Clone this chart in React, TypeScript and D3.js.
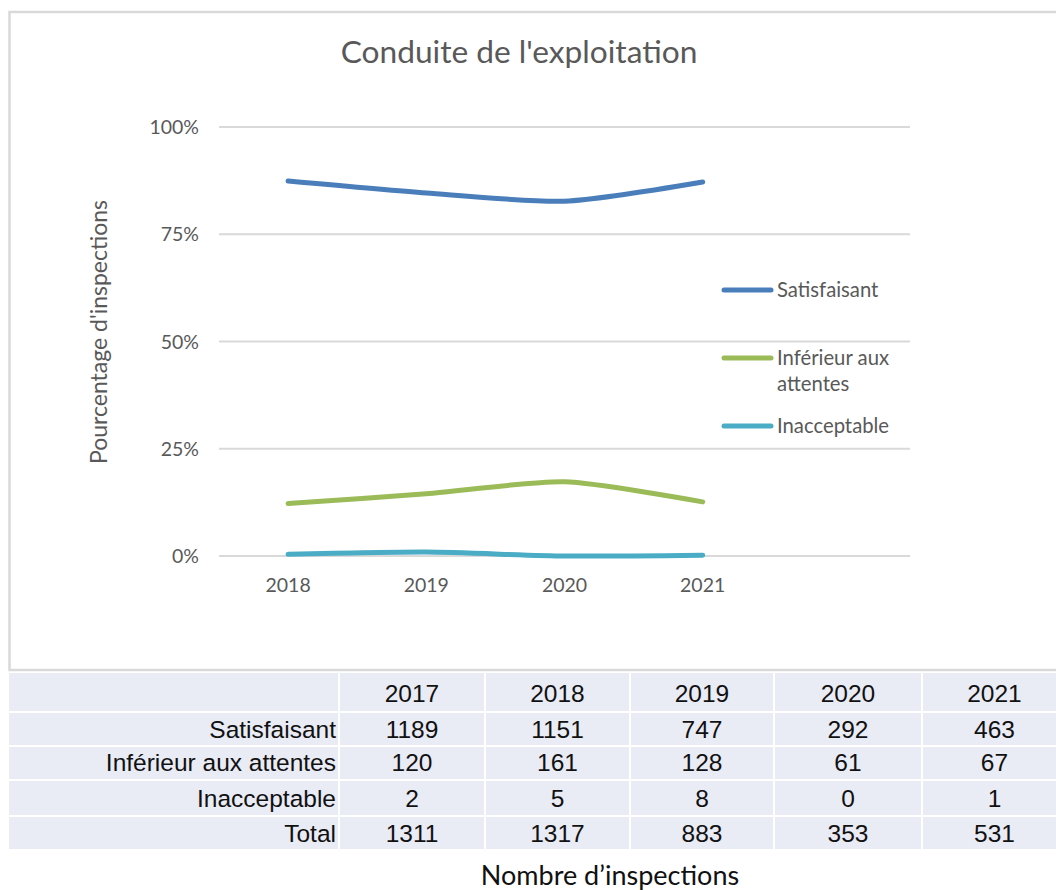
import React from "react";
import * as d3 from "d3";

// ---- Data ----
const tableYears = ["2017", "2018", "2019", "2020", "2021"];
const rowLabels = ["Satisfaisant", "Inférieur aux attentes", "Inacceptable", "Total"];
const satisfaisant = [1189, 1151, 747, 292, 463];
const inferieur = [120, 161, 128, 61, 67];
const inacceptable = [2, 5, 8, 0, 1];
const total = [1311, 1317, 883, 353, 531];

const chartYears = ["2018", "2019", "2020", "2021"];
const yTicks = [0, 0.25, 0.5, 0.75, 1];
const seriesNames = ["Satisfaisant", "Inférieur aux attentes", "Inacceptable"];
const seriesColors = ["#4A7EBB", "#9BBB59", "#4BACC6"];

const W = 1056;
const H = 890;
const chartFont = "Lato, 'Open Sans', sans-serif";
const tableFont = "'Liberation Sans', Arial, sans-serif";
const textGrey = "#595959";

export default function App() {
  const plotLeft = 219;
  const plotRight = 910;
  const bandW = (plotRight - plotLeft) / 5;
  const x = d3.scaleBand<string>().domain(chartYears).range([plotLeft, plotLeft + bandW * chartYears.length]);
  const y = d3.scaleLinear().domain([0, 1]).range([556, 127]);

  const counts = [satisfaisant, inferieur, inacceptable];
  const series = counts.map((arr, si) => ({
    name: seriesNames[si],
    color: seriesColors[si],
    values: chartYears.map((yr) => {
      const i = tableYears.indexOf(yr);
      return { year: yr, v: arr[i] / total[i] };
    }),
  }));

  const line = d3
    .line<{ year: string; v: number }>()
    .x((d) => (x(d.year) as number) + x.bandwidth() / 2)
    .y((d) => y(d.v))
    .curve(d3.curveCardinal.tension(0.3));

  const legendItems = [
    { lines: ["Satisfaisant"], y: 290 },
    { lines: ["Inférieur aux", "attentes"], y: 358 },
    { lines: ["Inacceptable"], y: 426 },
  ];

  const tableRows = [tableYears, satisfaisant, inferieur, inacceptable, total];
  const rowTops = [673, 713, 747, 781, 817];
  const rowBottoms = [711, 745, 779, 815, 849];
  const baselines = [702, 738, 771, 807, 842];
  const colEdges: [number, number][] = [
    [9, 338],
    [340, 484],
    [486, 629],
    [631, 773],
    [775, 921],
    [923, 1070],
  ];

  return (
    <svg width={W} height={H} style={{ position: "absolute", left: 0, top: 0 }}>
      <rect x={0} y={0} width={W} height={H} fill="#fff" />
      {/* chart frame */}
      <rect x={9.5} y={12} width={1100} height={658} fill="#fff" stroke="#D9D9D9" strokeWidth={2.5} />
      <text x={519} y={63} textAnchor="middle" fontFamily={chartFont} fontSize={31.7} fill={textGrey}>
        Conduite de l'exploitation
      </text>

      {/* gridlines + y labels */}
      {yTicks.map((t) => (
        <g key={t}>
          <line x1={plotLeft} x2={plotRight} y1={y(t)} y2={y(t)} stroke="#D9D9D9" strokeWidth={2} />
          <text x={199} y={y(t) + 7} textAnchor="end" fontFamily={chartFont} fontSize={19.5} fill={textGrey}>
            {d3.format(".0%")(t)}
          </text>
        </g>
      ))}

      {/* x labels */}
      {chartYears.map((yr) => (
        <text
          key={yr}
          x={(x(yr) as number) + x.bandwidth() / 2}
          y={592}
          textAnchor="middle"
          fontFamily={chartFont}
          fontSize={19.5}
          fill={textGrey}
        >
          {yr}
        </text>
      ))}

      {/* y axis title */}
      <text
        transform="translate(107,332) rotate(-90)"
        textAnchor="middle"
        fontFamily={chartFont}
        fontSize={23}
        fill={textGrey}
      >
        Pourcentage d'inspections
      </text>

      {/* lines */}
      {series.map((s) => (
        <path
          key={s.name}
          d={line(s.values) || ""}
          fill="none"
          stroke={s.color}
          strokeWidth={5}
          strokeLinecap="round"
          strokeLinejoin="round"
        />
      ))}

      {/* legend */}
      {legendItems.map((it, i) => (
        <g key={i}>
          <line x1={724} x2={771} y1={it.y} y2={it.y} stroke={seriesColors[i]} strokeWidth={5} strokeLinecap="round" />
          {it.lines.map((ln, j) => (
            <text key={j} x={777} y={it.y + 7 + j * 26} fontFamily={chartFont} fontSize={20.3} fill={textGrey}>
              {ln}
            </text>
          ))}
        </g>
      ))}

      {/* table */}
      {tableRows.map((row, ri) => (
        <g key={ri}>
          {colEdges.map(([a, b], ci) => (
            <rect key={ci} x={a} y={rowTops[ri]} width={b - a} height={rowBottoms[ri] - rowTops[ri]} fill="#E9EBF5" />
          ))}
          {ri > 0 && (
            <text x={336} y={baselines[ri]} textAnchor="end" fontFamily={tableFont} fontSize={24.5} fill="#111">
              {rowLabels[ri - 1]}
            </text>
          )}
          {row.map((v, ci) => {
            const [a, b] = colEdges[ci + 1];
            return (
              <text
                key={ci}
                x={(a + Math.min(b, 1066)) / 2}
                y={baselines[ri]}
                textAnchor="middle"
                fontFamily={tableFont}
                fontSize={24.5}
                fill="#111"
              >
                {v}
              </text>
            );
          })}
        </g>
      ))}

      <text x={610} y={885} textAnchor="middle" fontFamily={chartFont} fontSize={27} fill="#111">
        Nombre d’inspections
      </text>
    </svg>
  );
}
